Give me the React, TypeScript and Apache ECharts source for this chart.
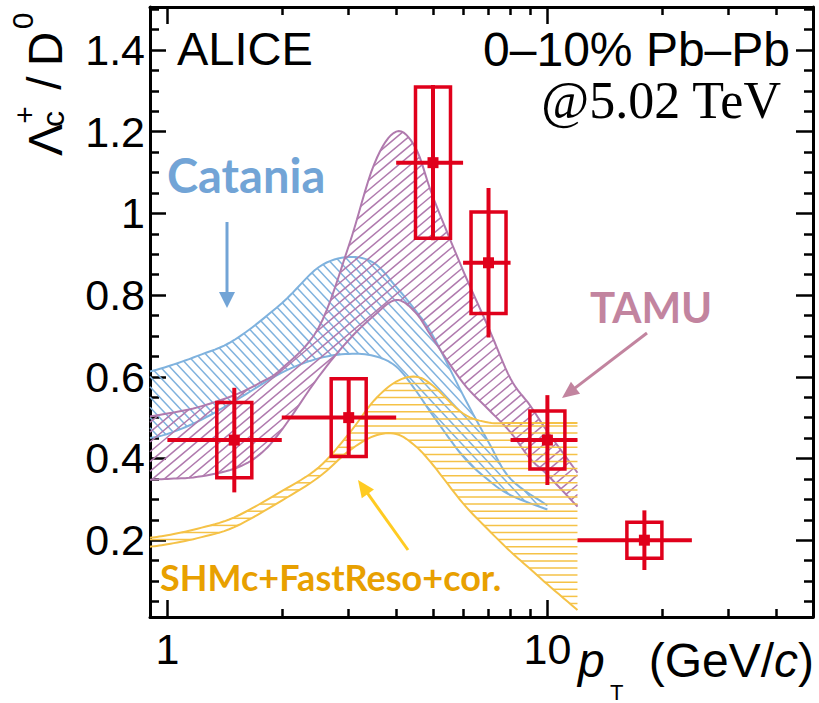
import React, { useEffect, useRef } from 'react';
import * as echarts from 'echarts';

// ---- ALICE data points (Lambda_c+/D0, 0-10% Pb-Pb) ----
const ptX = [1.5, 3, 5, 7, 10, 18];
const ptXLow = [1, 2, 4, 6, 8, 12];
const ptXHigh = [2, 4, 6, 8, 12, 24];
const ptY = [0.445, 0.5, 1.124, 0.879, 0.445, 0.2];
const statErr = [0.128, 0.093, 0.19, 0.183, 0.11, 0.073];
const systErr = [0.092, 0.095, 0.185, 0.124, 0.071, 0.044];

// ---- Catania band ----
const catX = [0.9, 1, 1.2, 1.5, 2, 2.5, 3, 3.5, 4, 4.5, 5, 6, 7, 8, 10];
const catHigh = [0.613, 0.625, 0.651, 0.69, 0.78, 0.868, 0.893, 0.878, 0.82, 0.762, 0.7, 0.555, 0.44, 0.35, 0.285];
const catLow = [0.45, 0.46, 0.49, 0.54, 0.61, 0.645, 0.656, 0.651, 0.625, 0.567, 0.505, 0.405, 0.347, 0.31, 0.275];

// ---- TAMU band ----
const tamuX = [0.9, 1, 1.2, 1.5, 1.75, 2, 2.5, 3, 3.5, 4, 4.5, 5, 6, 7, 8, 9, 10, 12];
const tamuHigh = [0.503, 0.51, 0.525, 0.555, 0.585, 0.62, 0.72, 0.92, 1.12, 1.2, 1.16, 1.04, 0.86, 0.72, 0.595, 0.53, 0.466, 0.365];
const tamuLow = [0.348, 0.35, 0.355, 0.375, 0.41, 0.47, 0.6, 0.69, 0.75, 0.788, 0.757, 0.693, 0.585, 0.52, 0.464, 0.4, 0.36, 0.282];

// ---- SHMc+FastReso+cor. band ----
const shmX = [0.9, 1, 1.2, 1.5, 2, 2.5, 3, 3.5, 4, 4.5, 5, 6, 7, 8, 9, 10, 12];
const shmHigh = [0.206, 0.212, 0.228, 0.256, 0.32, 0.378, 0.46, 0.542, 0.588, 0.6, 0.578, 0.51, 0.488, 0.487, 0.487, 0.487, 0.487];
const shmLow = [0.184, 0.19, 0.205, 0.232, 0.297, 0.354, 0.418, 0.455, 0.46, 0.43, 0.384, 0.29, 0.225, 0.172, 0.13, 0.092, 0.029];

// ---- axes ----
const xMajor = [1, 10];
const xMinor = [2, 3, 4, 5, 6, 7, 8, 9, 20, 30, 40];
const yMajor = [0.2, 0.4, 0.6, 0.8, 1, 1.2, 1.4];
const yMinor = [0.05, 0.1, 0.15, 0.25, 0.3, 0.35, 0.45, 0.5, 0.55, 0.65, 0.7, 0.75, 0.85, 0.9, 0.95, 1.05, 1.1, 1.15, 1.25, 1.3, 1.35, 1.45, 1.5];

const SANS = "'Liberation Sans', Arial, Helvetica, sans-serif";
const BOLD = "Lato, 'Open Sans', sans-serif";
const RED = '#e0001b';
const BLUE = '#7fb2de';
const PURPLE = '#b07aae';
const YELLOW = '#f5c247';

function catmull(pts: number[][], seg = 8) {
  const out: number[][] = [];
  const n = pts.length;
  for (let i = 0; i < n - 1; i++) {
    const p0 = pts[Math.max(0, i - 1)], p1 = pts[i], p2 = pts[i + 1], p3 = pts[Math.min(n - 1, i + 2)];
    for (let k = 0; k < seg; k++) {
      const t = k / seg, t2 = t * t, t3 = t2 * t;
      const f = (a: number, b: number, c: number, d: number) =>
        0.5 * (2 * b + (-a + c) * t + (2 * a - 5 * b + 4 * c - d) * t2 + (-a + 3 * b - 3 * c + d) * t3);
      out.push([f(p0[0], p1[0], p2[0], p3[0]), f(p0[1], p1[1], p2[1], p3[1])]);
    }
  }
  out.push(pts[n - 1]);
  return out;
}

function hatch(poly: number[][], angleDeg: number, spacing: number) {
  const a = (angleDeg * Math.PI) / 180, c = Math.cos(a), s = Math.sin(a);
  const uv = poly.map(([x, y]) => [x * c + y * s, -x * s + y * c]);
  let vmin = Infinity, vmax = -Infinity;
  uv.forEach((p) => { vmin = Math.min(vmin, p[1]); vmax = Math.max(vmax, p[1]); });
  const segs: number[][] = [];
  for (let v = Math.ceil(vmin / spacing) * spacing; v <= vmax; v += spacing) {
    const us: number[] = [];
    for (let i = 0; i < uv.length; i++) {
      const p = uv[i], q = uv[(i + 1) % uv.length];
      if ((p[1] <= v && q[1] > v) || (q[1] <= v && p[1] > v)) {
        us.push(p[0] + ((v - p[1]) / (q[1] - p[1])) * (q[0] - p[0]));
      }
    }
    us.sort((m, n) => m - n);
    for (let k = 0; k + 1 < us.length; k += 2) {
      const u1 = us[k], u2 = us[k + 1];
      segs.push([u1 * c - v * s, u1 * s + v * c, u2 * c - v * s, u2 * s + v * c]);
    }
  }
  return segs;
}

function bandSeries(name: string, xs: number[], lo: number[], hi: number[], color: string, angle: number, spacing: number, z: number) {
  return {
    type: 'custom',
    name,
    coordinateSystem: 'cartesian2d',
    xAxisIndex: 0,
    yAxisIndex: 0,
    silent: true,
    z,
    data: [[xs[0], lo[0]]],
    renderItem: (_p: any, api: any) => {
      const up = catmull(xs.map((x, i) => api.coord([x, hi[i]])));
      const dn = catmull(xs.map((x, i) => api.coord([x, lo[i]])));
      const poly = up.concat(dn.slice().reverse());
      const segs = hatch(poly, angle, spacing);
      const children: any[] = segs.map((sg) => ({
        type: 'line',
        shape: { x1: sg[0], y1: sg[1], x2: sg[2], y2: sg[3] },
        style: { stroke: color, lineWidth: 1.5 },
      }));
      children.push({ type: 'polyline', shape: { points: up }, style: { stroke: color, lineWidth: 2, fill: 'none' } });
      children.push({ type: 'polyline', shape: { points: dn }, style: { stroke: color, lineWidth: 2, fill: 'none' } });
      return { type: 'group', children };
    },
  };
}

function mkX(position: string, ticks: number[], len: number, labels: boolean, line: boolean) {
  return {
    type: 'log',
    logBase: 10,
    min: 0.9,
    max: 50,
    position,
    gridIndex: 0,
    axisLine: { show: line, onZero: false, lineStyle: { color: '#000', width: 3 } },
    axisTick: { show: true, inside: true, length: len, customValues: ticks, lineStyle: { color: '#000', width: 2.5 } },
    axisLabel: labels
      ? { show: true, customValues: ticks, margin: 10, fontSize: 43, fontFamily: SANS, color: '#000', formatter: (v: number) => String(v) }
      : { show: false },
    splitLine: { show: false },
    minorTick: { show: false },
  };
}

function mkY(position: string, ticks: number[], len: number, labels: boolean, line: boolean) {
  return {
    type: 'value',
    min: 0.012,
    max: 1.505,
    position,
    gridIndex: 0,
    axisLine: { show: line, onZero: false, lineStyle: { color: '#000', width: 3 } },
    axisTick: { show: true, inside: true, length: len, customValues: ticks, lineStyle: { color: '#000', width: 2.5 } },
    axisLabel: labels
      ? { show: true, customValues: ticks, margin: 5, fontSize: 43, fontFamily: SANS, color: '#000', formatter: (v: number) => String(v) }
      : { show: false },
    splitLine: { show: false },
  };
}

function arrow(x1: number, y1: number, x2: number, y2: number, color: string, w: number, headLen: number, headHalf: number) {
  const dx = x2 - x1, dy = y2 - y1, L = Math.hypot(dx, dy), ux = dx / L, uy = dy / L;
  const bx = x2 - ux * headLen, by = y2 - uy * headLen;
  const px = -uy * headHalf, py = ux * headHalf;
  return [
    { type: 'line', shape: { x1, y1, x2: bx + ux * 2, y2: by + uy * 2 }, style: { stroke: color, lineWidth: w } },
    { type: 'polygon', shape: { points: [[x2, y2], [bx + px, by + py], [bx - px, by - py]] }, style: { fill: color } },
  ];
}

function txt(x: number, y: number, text: string, font: string, fill: string, align: string, rotation = 0, extra: any = {}) {
  return {
    type: 'text',
    x,
    y,
    rotation,
    silent: true,
    style: { text, font, fill, align, verticalAlign: 'middle', textAlign: align, textVerticalAlign: 'middle', ...extra },
  };
}

export default function App() {
  const ref = useRef<HTMLDivElement>(null);
  useEffect(() => {
    document.body.style.margin = '0';
    const chart = echarts.init(ref.current!, null, { renderer: 'svg' });
    const pointData = ptX.map((x, i) => [x, ptY[i], ptXLow[i], ptXHigh[i], statErr[i], systErr[i]]);
    const R = Math.PI / 2;
    const option: any = {
      animation: false,
      backgroundColor: '#fff',
      grid: { left: 150, top: 7, width: 663, height: 610, outerBoundsMode: 'none' },
      xAxis: [
        mkX('bottom', xMajor, 17, true, true),
        mkX('bottom', xMinor, 8, false, false),
        mkX('top', xMajor, 17, false, true),
        mkX('top', xMinor, 8, false, false),
      ],
      yAxis: [
        mkY('left', yMajor, 16, true, true),
        mkY('left', yMinor, 9, false, false),
        mkY('right', yMajor, 17, false, true),
        mkY('right', yMinor, 9, false, false),
      ],
      series: [
        bandSeries('Catania', catX, catLow, catHigh, BLUE, 47, 7, 2),
        bandSeries('TAMU', tamuX, tamuLow, tamuHigh, PURPLE, -40, 7.5, 3),
        bandSeries('SHMc', shmX, shmLow, shmHigh, YELLOW, 0, 7.1, 4),
        {
          type: 'custom',
          name: 'ALICE',
          coordinateSystem: 'cartesian2d',
          xAxisIndex: 0,
          yAxisIndex: 0,
          z: 10,
          silent: true,
          data: pointData,
          encode: { x: 0, y: 1 },
          renderItem: (_p: any, api: any) => {
            const x = api.value(0), y = api.value(1), xl = api.value(2), xh = api.value(3), st = api.value(4), sy = api.value(5);
            const c = api.coord([x, y]);
            const l = api.coord([xl, y]), r = api.coord([xh, y]);
            const t = api.coord([x, y + st]), b = api.coord([x, y - st]);
            const bt = api.coord([x, y + sy]), bb = api.coord([x, y - sy]);
            const hw = 17.5;
            return {
              type: 'group',
              children: [
                { type: 'line', shape: { x1: l[0], y1: c[1], x2: r[0], y2: c[1] }, style: { stroke: RED, lineWidth: 4 } },
                { type: 'line', shape: { x1: c[0], y1: t[1], x2: c[0], y2: b[1] }, style: { stroke: RED, lineWidth: 4 } },
                { type: 'rect', shape: { x: c[0] - hw, y: bt[1], width: hw * 2, height: bb[1] - bt[1] }, style: { stroke: RED, lineWidth: 3.5, fill: 'none' } },
                { type: 'rect', shape: { x: c[0] - 5.5, y: c[1] - 5.5, width: 11, height: 11 }, style: { fill: RED } },
              ],
            };
          },
        },
      ],
      graphic: {
        elements: [
          txt(177, 48.5, 'ALICE', `47px ${SANS}`, '#000', 'left'),
          txt(790, 49, '0–10% Pb–Pb', `48px ${SANS}`, '#000', 'right'),
          txt(781, 100.5, '@5.02 TeV', `52px 'Liberation Serif', 'Times New Roman', serif`, '#000', 'right'),
          txt(167, 174.5, 'Catania', `bold 47px ${BOLD}`, '#72a4d6', 'left'),
          txt(590, 307, 'TAMU', `bold 42px ${BOLD}`, '#c2849f', 'left'),
          txt(160, 576.5, 'SHMc+FastReso+cor.', `bold 36px ${BOLD}`, '#e8a000', 'left'),
          ...arrow(227, 222, 227, 308, '#72a4d6', 3, 16, 8),
          ...arrow(647, 333, 562, 398, '#c2849f', 3, 17, 7.5),
          ...arrow(408, 550, 358, 480, '#ffcb22', 3, 17, 7.5),
          // x-axis title
          txt(578, 660, 'p', `italic 48px ${SANS}`, '#000', 'left'),
          txt(610, 692, 'T', `22px ${SANS}`, '#000', 'left'),
          txt(814, 660, '(GeV/{i|c})', `48px ${SANS}`, '#000', 'right', 0, {
            rich: { i: { fontStyle: 'italic', fontSize: 48, fontFamily: SANS, fill: '#000' } },
          }),
          // y-axis title (rotated)
          txt(45, 140, 'Λ', `48px ${SANS}`, '#000', 'center', R),
          txt(53, 119, 'c', `32px ${SANS}`, '#000', 'center', R),
          txt(24, 115, '+', `30px ${SANS}`, '#000', 'center', R),
          txt(44, 83, '/', `48px ${SANS}`, '#000', 'center', R),
          txt(45, 49, 'D', `48px ${SANS}`, '#000', 'center', R),
          txt(22, 21, '0', `30px ${SANS}`, '#000', 'center', R),
        ],
      },
    };
    chart.setOption(option);
    return () => chart.dispose();
  }, []);
  return <div ref={ref} style={{ width: 819, height: 703 }} />;
}
